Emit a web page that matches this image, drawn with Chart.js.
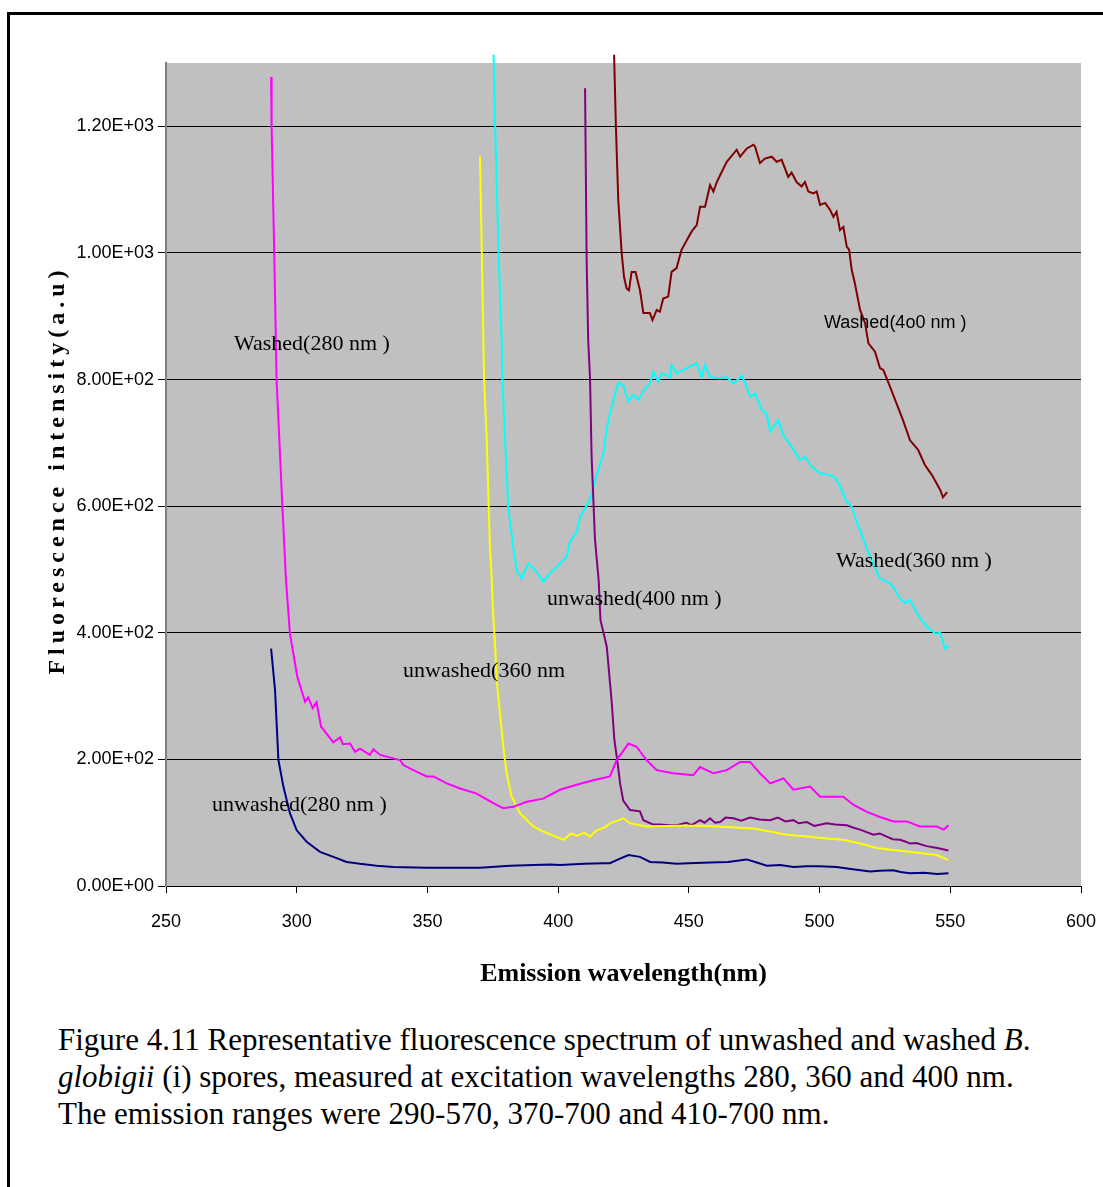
<!DOCTYPE html>
<html>
<head>
<meta charset="utf-8">
<script src="https://cdn.jsdelivr.net/npm/chart.js@4.4.1/dist/chart.umd.min.js"></script>
<style>
html, body { margin: 0; padding: 0; background: #fff; }
body { width: 1103px; height: 1187px; position: relative; overflow: hidden; }
#frame { position: absolute; left: 7px; top: 12px; width: 1100px; height: 1180px; border-top: 3px solid #000; border-left: 3px solid #000; }
#wrap { position: absolute; left: 0; top: 0; width: 1103px; height: 1000px; }
#caption { position: absolute; left: 58px; top: 1021px; white-space: nowrap; font-family: "Liberation Serif", "Times New Roman", serif; font-size: 31px; line-height: 37px; color: #000; }
</style>
</head>
<body>
<div id="frame"></div>
<div id="wrap"><canvas id="spectrum_chart" width="1103" height="1000"></canvas></div>
<div id="caption">Figure 4.11 Representative fluorescence spectrum of unwashed and washed <i>B</i>.<br><i>globigii</i> (i) spores, measured at excitation wavelengths 280, 360 and 400 nm.<br>The emission ranges were 290-570, 370-700 and 410-700 nm.</div>

<script>
// wavelength (nm) / intensity (a.u.)

var washed280Nm = [290.2, 290.4, 291.4, 292.3, 294.4, 295.9, 297.4, 300.2, 303.2, 304.4, 306.1, 307.6, 309.3, 314.0, 316.6, 317.6, 320.4, 322.3, 324.2, 328.0, 329.3, 331.9, 339.5, 340.8, 344.6, 349.7, 352.3, 357.4, 362.5, 368.8, 375.2, 379.0, 382.8, 388.0, 394.3, 400.7, 407.1, 413.4, 419.8, 422.4, 426.9, 430.0, 433.8, 437.7, 444.0, 451.7, 454.3, 459.4, 464.5, 469.6, 473.4, 477.2, 481.1, 486.2, 490.0, 496.4, 500.2, 509.1, 513.0, 518.1, 523.1, 528.2, 533.3, 538.4, 544.8, 547.5, 549.3];
var washed280Val = [1278, 1200, 1000, 800, 610, 483, 399, 331, 291, 298, 281, 290, 252, 227, 235, 224, 225, 212, 217, 207, 216, 207, 199, 191, 183, 173, 173, 162, 154, 146, 131, 123, 125, 133, 138, 152, 160, 167, 173, 199, 225, 220, 199, 183, 178, 175, 188, 178, 183, 196, 196, 178, 162, 170, 152, 157, 141, 141, 128, 117, 109, 102, 102, 94, 94, 89, 96];

var unwashed280Nm = [290.2, 291.7, 293.0, 294.9, 297.4, 300.0, 303.8, 308.9, 314.0, 319.1, 324.2, 330.6, 337.0, 349.7, 362.5, 366.3, 370.1, 381.6, 396.9, 400.7, 410.0, 417.3, 419.8, 423.0, 426.9, 431.3, 435.2, 440.0, 445.3, 450.0, 458.1, 465.0, 472.1, 476.0, 479.8, 485.0, 490.0, 495.0, 500.0, 506.5, 512.0, 519.3, 523.0, 528.2, 531.0, 534.6, 540.0, 545.0, 549.3];
var unwashed280Val = [375, 310, 199, 157, 115, 88, 70, 54, 46, 38, 35, 32, 30, 29, 29, 29, 29, 32, 34, 33, 35, 36, 36, 42, 49, 46, 38, 37, 35, 36, 37, 38, 42, 37, 32, 33, 30, 31, 31, 30, 27, 23, 24, 25, 22, 20, 21, 19, 20];

var unwashed360Nm = [370.1, 370.8, 371.4, 371.65, 372.7, 373.9, 374.6, 375.2, 375.9, 376.5, 378.4, 379.0, 380.3, 382.2, 382.9, 385.4, 390.5, 394.3, 398.0, 402.0, 405.0, 407.1, 410.0, 412.2, 414.7, 418.0, 419.8, 424.9, 427.5, 433.8, 445.3, 454.3, 464.5, 474.7, 487.5, 495.1, 502.7, 509.1, 515.5, 521.9, 528.2, 538.4, 544.8, 549.3];
var unwashed360Val = [1153, 1000, 862, 802, 704, 536, 483, 425, 378, 325, 246, 220, 178, 141, 136, 115, 94, 86, 80, 73, 83, 79, 84, 78, 88, 93, 99, 107, 99, 94, 95, 95, 93, 91, 81, 78, 75, 73, 67, 60, 57, 52, 49, 41];

var unwashed400Nm = [410.3, 410.9, 411.5, 412.2, 412.8, 414.1, 415.5, 416.2, 418.6, 420.5, 421.5, 422.6, 423.7, 424.9, 427.5, 431.3, 432.6, 436.4, 438.9, 442.9, 445.3, 449.0, 451.0, 454.3, 456.0, 458.1, 460.0, 462.0, 464.0, 467.1, 470.0, 473.4, 477.0, 481.1, 484.0, 487.0, 490.0, 492.0, 495.1, 498.0, 502.7, 506.0, 510.4, 513.0, 515.5, 518.0, 520.6, 523.0, 525.7, 528.0, 530.8, 533.0, 534.6, 537.0, 541.0, 545.0, 549.3];
var unwashed400Val = [1260, 989, 862, 802, 678, 547, 483, 420, 378, 290, 231, 199, 162, 135, 120, 118, 104, 97, 97, 96, 96, 100, 96, 104, 100, 107, 100, 101, 108, 107, 103, 108, 105, 104, 108, 102, 104, 99, 101, 95, 99, 97, 96, 92, 89, 85, 81, 83, 78, 74, 73, 70, 67, 68, 63, 60, 56];

var washed360Nm = [375.3, 375.9, 377.2, 378.4, 378.65, 379.7, 380.9, 382.8, 384.1, 386.0, 388.6, 391.2, 394.3, 396.9, 399.4, 403.3, 404.5, 407.1, 408.4, 412.2, 414.1, 417.3, 418.6, 420.5, 423.0, 424.9, 426.8, 428.7, 430.7, 432.5, 435.1, 436.4, 438.3, 439.6, 442.8, 443.4, 445.3, 449.2, 453.0, 454.9, 456.2, 458.1, 462.0, 464.5, 467.1, 470.3, 472.1, 473.4, 475.3, 477.9, 479.8, 481.1, 484.2, 486.2, 489.3, 492.5, 494.4, 497.0, 500.2, 504.0, 505.9, 507.8, 510.4, 512.3, 514.2, 516.8, 519.3, 523.1, 527.0, 528.9, 530.8, 532.7, 534.6, 537.2, 539.1, 541.0, 544.2, 546.1, 548.0, 549.3];
var washed360Val = [1313, 1199, 1000, 862, 802, 704, 599, 536, 499, 486, 509, 499, 481, 494, 504, 520, 544, 559, 583, 610, 641, 683, 723, 757, 795, 791, 765, 776, 768, 781, 794, 812, 797, 810, 804, 823, 810, 818, 826, 804, 823, 804, 802, 804, 794, 806, 789, 773, 778, 752, 746, 718, 736, 712, 694, 673, 678, 662, 652, 649, 646, 631, 607, 599, 575, 547, 520, 486, 478, 468, 454, 447, 452, 431, 420, 410, 399, 400, 375, 379];

var washed400Nm = [421.4, 422.1, 423.0, 424.3, 425.2, 426.2, 427.1, 428.1, 429.6, 431.3, 432.6, 435.1, 436.1, 437.7, 438.9, 440.2, 442.1, 443.4, 445.3, 447.2, 449.2, 451.1, 453.0, 454.3, 456.2, 458.1, 459.4, 460.7, 462.0, 464.5, 468.3, 469.6, 472.2, 474.7, 475.3, 477.2, 479.1, 481.7, 483.6, 485.5, 488.0, 489.3, 491.2, 493.1, 494.4, 495.7, 497.6, 498.9, 500.2, 502.1, 504.0, 505.3, 506.5, 507.8, 509.1, 510.4, 511.3, 512.3, 513.5, 515.5, 517.4, 518.7, 521.2, 523.1, 524.4, 525.7, 528.9, 531.9, 534.6, 537.7, 540.3, 543.0, 546.1, 547.2, 548.8];
var washed400Val = [1313, 1199, 1084, 1000, 962, 944, 941, 970, 970, 941, 905, 905, 894, 910, 907, 928, 931, 970, 976, 1005, 1020, 1034, 1044, 1073, 1073, 1107, 1097, 1112, 1123, 1144, 1163, 1152, 1165, 1171, 1168, 1142, 1149, 1152, 1144, 1147, 1120, 1127, 1112, 1105, 1112, 1097, 1094, 1097, 1076, 1079, 1068, 1057, 1065, 1036, 1041, 1010, 1005, 973, 952, 910, 889, 857, 844, 818, 815, 802, 768, 736, 704, 689, 665, 649, 626, 614, 622];

// in-plot series labels: text, wavelength of left edge, intensity of middle
var labelText = ["Washed(280 nm )", "Washed(4o0 nm )", "Washed(360 nm )", "unwashed(400 nm )", "unwashed(360 nm", "unwashed(280 nm )"];
var labelNm = [276.0, 501.7, 506.3, 395.7, 340.7, 267.6];
var labelVal = [856, 889, 513, 453, 340, 128];

var yTicks = [0, 200, 400, 600, 800, 1000, 1200];

function pts(nm, val) {
    var out = [];
    for (var i = 0; i < nm.length; i++) {
        out.push({x: nm[i], y: val[i]});
    }
    return out;
}

function sci(v) {
    var s = v.toExponential(2).split('e');
    var e = parseInt(s[1]);
    return s[0] + 'E' + (e < 0 ? '-' : '+') + String(Math.abs(e)).padStart(2, '0');
}

function line(nm, val, colour) {
    return {
        data: pts(nm, val),
        borderColor: colour,
        backgroundColor: colour,
        borderWidth: 2,
        pointRadius: 0,
        tension: 0,
        fill: false,
        clip: {left: 0, top: 9, right: 0, bottom: 0}
    };
}

var plotBackground = {
    id: 'plotBackground',
    beforeDraw: function(chart) {
        var a = chart.chartArea, ctx = chart.ctx;
        ctx.save();
        ctx.fillStyle = '#C0C0C0';
        ctx.fillRect(a.left, a.top, a.right - a.left, a.bottom - a.top);
        ctx.restore();
    }
};

var textLayer = {
    id: 'textLayer',
    afterDraw: function(chart) {
        var ctx = chart.ctx, a = chart.chartArea;
        var xs = chart.scales.x, ys = chart.scales.y;
        ctx.save();
        ctx.fillStyle = '#000';
        ctx.textAlign = 'left';
        ctx.textBaseline = 'middle';
        for (var i = 0; i < labelText.length; i++) {
            if (labelText[i].indexOf('4o0') >= 0) {
                ctx.font = '18px "Liberation Sans", Arial, sans-serif';
            } else {
                ctx.font = '22px "Liberation Serif", "Times New Roman", serif';
            }
            ctx.fillText(labelText[i], xs.getPixelForValue(labelNm[i]), ys.getPixelForValue(labelVal[i]));
        }

        // axis titles
        ctx.textAlign = 'center';
        ctx.font = 'bold 26px "Liberation Serif", "Times New Roman", serif';
        ctx.fillText('Emission wavelength(nm)', (a.left + a.right) / 2, a.bottom + 88);

        ctx.translate(58, 470);
        ctx.rotate(-Math.PI / 2);
        ctx.letterSpacing = '5px';
        ctx.font = 'bold 24px "Liberation Serif", "Times New Roman", serif';
        ctx.fillText('Fluorescence intensity(a.u)', 0, 0);
        ctx.restore();
    }
};

var ctxSpec = document.getElementById('spectrum_chart').getContext('2d');

var spectrum_chart = new Chart(ctxSpec, {
    type: 'line',
    data: {
        datasets: [
            line(washed280Nm, washed280Val, '#FF00FF'),
            line(unwashed280Nm, unwashed280Val, '#000080'),
            line(unwashed360Nm, unwashed360Val, '#FFFF00'),
            line(unwashed400Nm, unwashed400Val, '#800080'),
            line(washed360Nm, washed360Val, '#00FFFF'),
            line(washed400Nm, washed400Val, '#800000')
        ]
    },
    options: {
        responsive: false,
        animation: false,
        layout: {padding: {left: 0, top: 63, right: 22, bottom: 0}},
        plugins: {legend: {display: false}, tooltip: {enabled: false}},
        scales: {
            x: {
                type: 'linear',
                min: 250,
                max: 600,
                ticks: {stepSize: 50, color: '#000', padding: 18, maxRotation: 0,
                        font: {family: '"Liberation Sans", Arial, sans-serif', size: 18}},
                grid: {drawOnChartArea: false, color: '#000', tickColor: '#000', tickLength: 7},
                border: {color: '#000', width: 1},
                afterFit: function(s) {
                    s.height = 114;
                    s.paddingLeft = 0;
                    s.paddingRight = 0;
                }
            },
            y: {
                type: 'linear',
                min: 0,
                max: 1300,
                ticks: {stepSize: 200, color: '#000', padding: 4,
                        font: {family: '"Liberation Sans", Arial, sans-serif', size: 18},
                        callback: function(v) { return sci(v); }},
                grid: {color: '#000', tickColor: '#000', lineWidth: 1, tickLength: 8},
                border: {color: '#808080', width: 2},
                afterBuildTicks: function(s) {
                    s.ticks = yTicks.map(function(v) { return {value: v}; });
                },
                afterFit: function(s) {
                    s.width = 166;
                    s.paddingTop = 0;
                    s.paddingBottom = 0;
                }
            }
        }
    },
    plugins: [plotBackground, textLayer]
});
</script>
</body>
</html>
